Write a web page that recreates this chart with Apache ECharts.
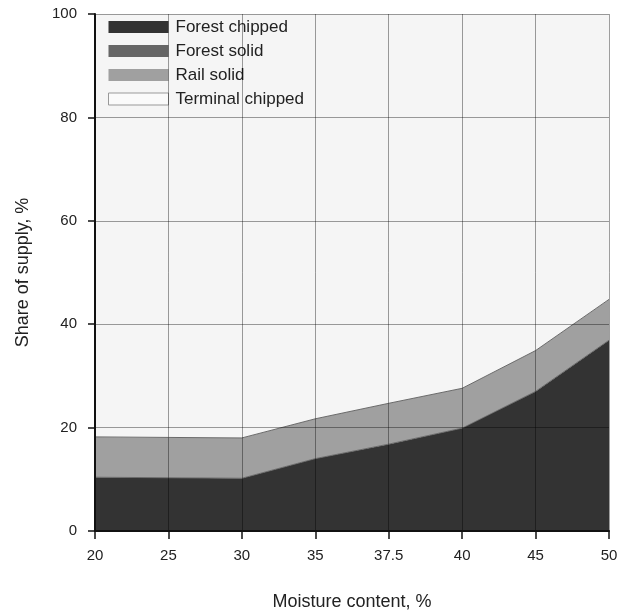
<!DOCTYPE html>
<html><head><meta charset="utf-8">
<script src="https://cdn.jsdelivr.net/npm/echarts@6/dist/echarts.min.js"></script>
<style>html,body{margin:0;padding:0;background:#fff}#c{width:629px;height:613px}</style>
</head><body><div id="c"></div>
<script>
const categories = ['20','25','30','35','37.5','40','45','50'];
const forestChipped = [10.4, 10.3, 10.2, 14.0, 16.8, 19.9, 27.0, 36.9];
const forestSolid = [0, 0, 0, 0, 0, 0, 0, 0];
const railSolid = [7.8, 7.8, 7.8, 7.7, 7.9, 7.7, 7.9, 7.9];
const terminalChipped = [81.8, 81.9, 82.0, 78.3, 75.3, 72.4, 65.1, 55.2];
const yTicks = [0, 20, 40, 60, 80, 100];

const FONT = '"Liberation Sans", Arial, sans-serif';
const chart = echarts.init(document.getElementById('c'), null, {renderer: 'canvas'});
const lineCol = '#6a6a6a';
function ser(name, data, color, lw) {
  return {
    name, type: 'line', stack: 'total', data, symbol: 'none', z: 2,
    lineStyle: {color: lineCol, width: lw},
    itemStyle: {color},
    areaStyle: {color, opacity: 1},
    emphasis: {disabled: true}
  };
}
chart.setOption({
  animation: false,
  backgroundColor: '#fff',
  grid: {left: 95, right: 20, top: 14, bottom: 82, containLabel: false, outerBoundsMode: 'none'},
  legend: {
    orient: 'vertical', left: 108, top: 17, padding: 0, icon: 'rect',
    itemWidth: 60, itemHeight: 12, itemGap: 4,
    textStyle: {fontFamily: FONT, fontSize: 17, color: '#222', lineHeight: 20, padding: [0, 0, 0, 2]},
    data: [
      {name: 'Forest chipped', itemStyle: {color: '#333333', borderWidth: 0}},
      {name: 'Forest solid', itemStyle: {color: '#666666', borderWidth: 0}},
      {name: 'Rail solid', itemStyle: {color: '#a0a0a0', borderWidth: 0}},
      {name: 'Terminal chipped', itemStyle: {color: '#fafafa', borderColor: '#999', borderWidth: 1}}
    ]
  },
  xAxis: {
    type: 'category', data: categories, boundaryGap: false, z: 10,
    name: 'Moisture content, %', nameLocation: 'middle', nameGap: 62,
    nameTextStyle: {fontFamily: FONT, fontSize: 18, color: '#222'},
    axisLine: {lineStyle: {color: '#111', width: 2}},
    axisTick: {show: true, length: 8, lineStyle: {color: '#111', width: 1.5}},
    axisLabel: {fontFamily: FONT, fontSize: 15, color: '#222', margin: 17},
    splitLine: {show: true, lineStyle: {color: 'rgba(0,0,0,0.38)', width: 1}}
  },
  yAxis: {
    type: 'value', min: yTicks[0], max: yTicks[yTicks.length - 1], interval: 20, z: 10,
    name: 'Share of supply, %', nameLocation: 'middle', nameGap: 63,
    nameTextStyle: {fontFamily: FONT, fontSize: 18, color: '#222'},
    axisLine: {show: true, lineStyle: {color: '#111', width: 2}},
    axisTick: {show: true, length: 7, lineStyle: {color: '#111', width: 1.5}},
    axisLabel: {fontFamily: FONT, fontSize: 15, color: '#222', margin: 18},
    splitLine: {show: true, lineStyle: {color: 'rgba(0,0,0,0.38)', width: 1}}
  },
  series: [
    ser('Forest chipped', forestChipped, '#333333', 1),
    ser('Forest solid', forestSolid, '#666666', 0),
    ser('Rail solid', railSolid, '#a0a0a0', 1),
    ser('Terminal chipped', terminalChipped, '#f5f5f5', 0)
  ]
});
</script></body></html>
